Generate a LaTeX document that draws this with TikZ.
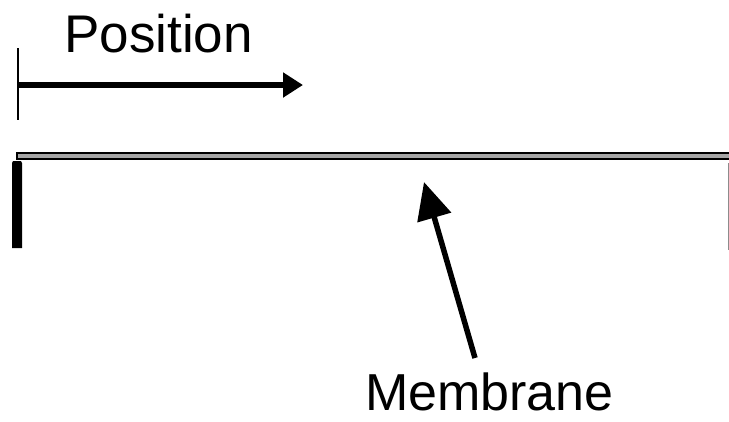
\documentclass[tikz,border=0pt]{standalone}
\usepackage{fontspec}
\setmainfont{Liberation Sans}
\usetikzlibrary{arrows.meta}
\begin{document}
\begin{tikzpicture}[x=1pt,y=-1pt,
  lbl/.style={inner sep=0pt,anchor=base west,font=\fontsize{53}{53}\selectfont},
  bigarrow/.style={line width=5.5pt,-{Triangle[length=20pt,width=24pt]}}]
\useasboundingbox (0,0) rectangle (729,421);
% position axis: zero tick and direction arrow
\coordinate (tickTop) at (18,48);
\coordinate (tickBot) at (18,120);
\draw[line width=1.2pt] (tickTop) -- (tickBot);
\coordinate (posStart) at (17,85);
\coordinate (posEnd) at (303,85);
\draw[bigarrow] (posStart) -- (posEnd);
\node[lbl] (position) at (64,52) {Position};
% membrane strip, clamped at the left end
\filldraw[fill=black!35,draw=black,line width=1.2pt] (17,153) rectangle (735,159);
\fill (12,163) -- (13,161) -- (21,161) -- (22,163) -- (22,248) -- (12,248) -- cycle;
\draw[black!45,line width=1pt] (728,163) -- (728,250);
% label with pointer to the membrane
\node[lbl,font=\fontsize{52}{52}\selectfont] (membrane) at (365,410) {Membrane};
\coordinate (memTail) at (475,358);
\coordinate (memTip) at (424,182);
\draw[line width=5.5pt,-{Triangle[length=37pt,width=34pt]}] (memTail) -- (memTip);
\end{tikzpicture}
\end{document}
